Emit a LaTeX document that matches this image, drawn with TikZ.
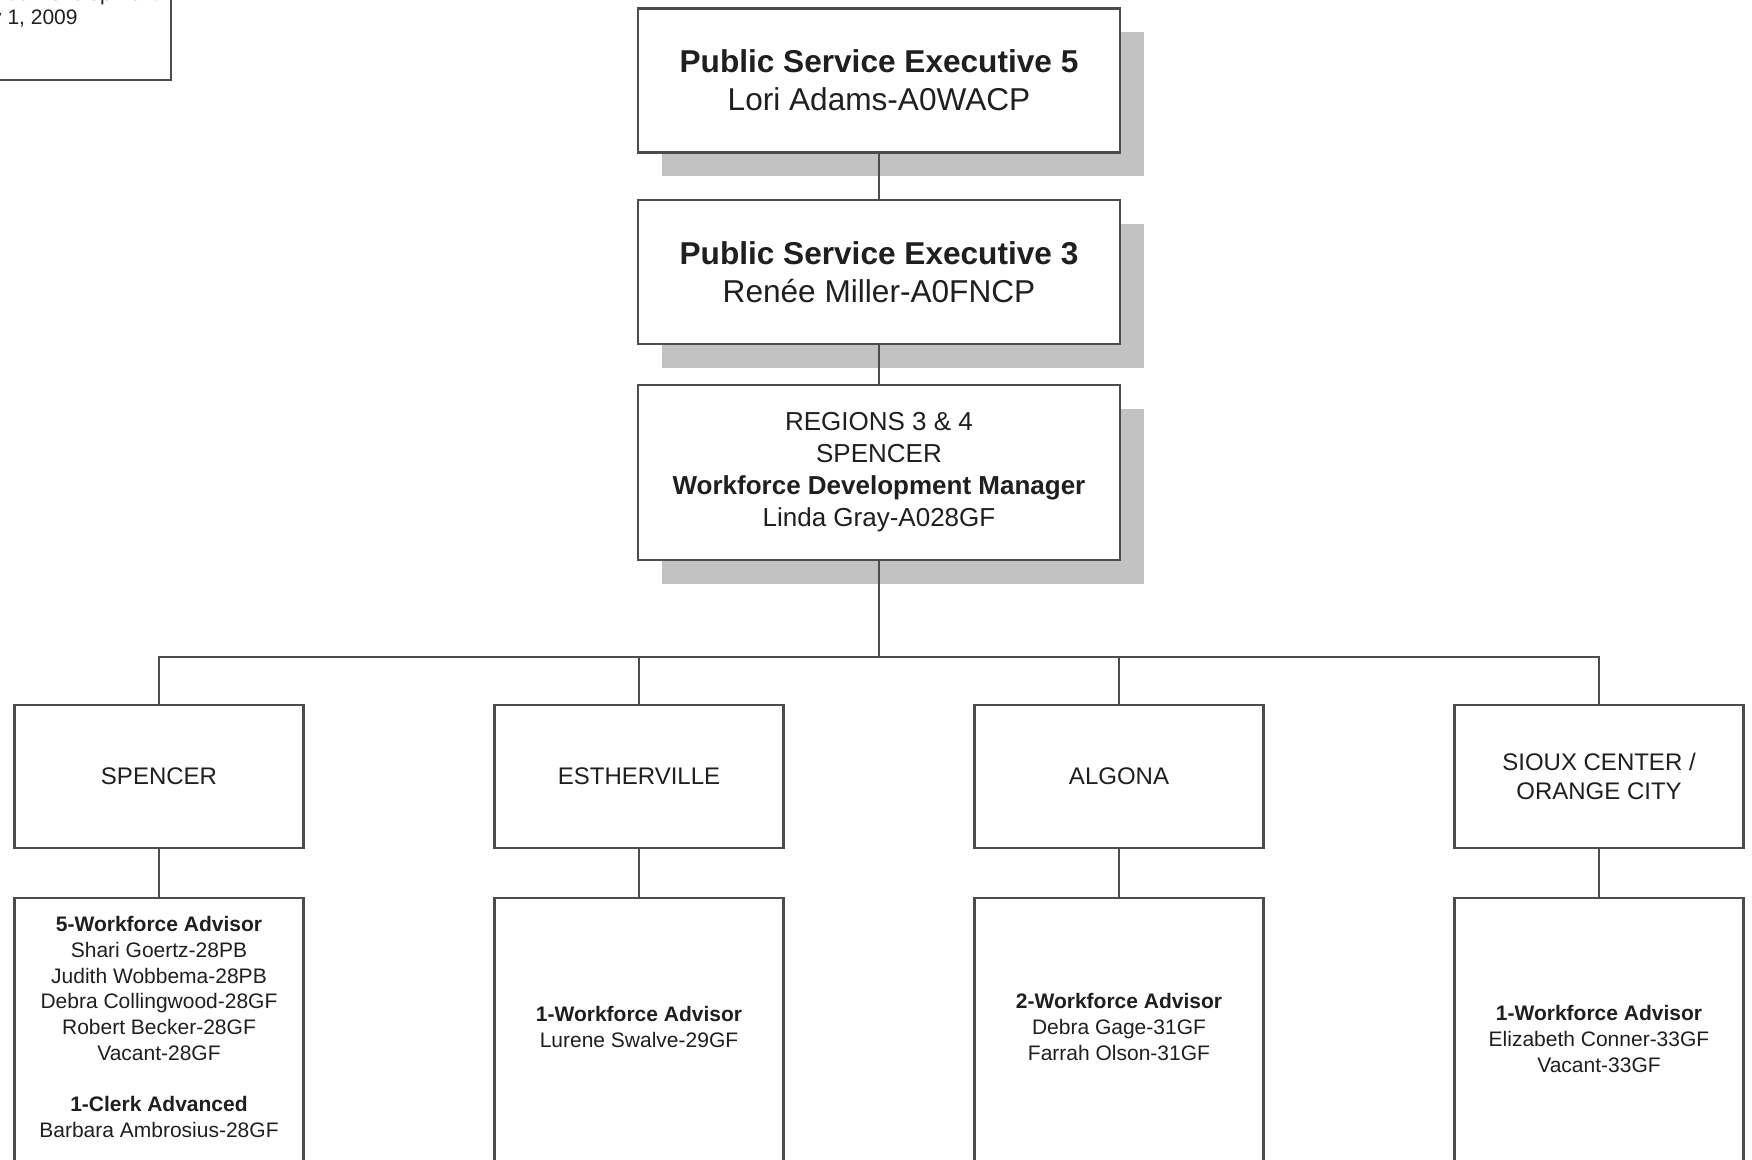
\documentclass[tikz,border=0pt]{standalone}
\usepackage{fontspec}
\setmainfont{Liberation Sans}
\usetikzlibrary{shadows}

\definecolor{boxline}{gray}{0.3}
\definecolor{shadowgray}{gray}{0.76}
\definecolor{textgray}{gray}{0.12}

\begin{document}
\begin{tikzpicture}[x=0.5pt, y=-0.5pt,
    every node/.style={text=textgray, align=center},
    execbox/.style={rectangle, draw=boxline, line width=1.1pt, fill=white,
        minimum width=241pt, minimum height=72pt,
        font=\fontsize{15.8}{19}\selectfont,
        drop shadow={shadow xshift=12pt, shadow yshift=-12pt, fill=shadowgray, opacity=1}},
    officebox/.style={rectangle, draw=boxline, line width=1.1pt, fill=white,
        minimum width=144.5pt, minimum height=71.5pt, font=\fontsize{12}{14.5}\selectfont},
    staffbox/.style={rectangle, draw=boxline, line width=1.1pt, fill=white,
        minimum width=144.5pt, minimum height=150pt, anchor=north},
    stafftext/.style={font=\fontsize{10.5}{12.85}\selectfont},
    link/.style={draw=boxline, line width=1pt}]
    \useasboundingbox (0,0) rectangle (1752,1160);
    \clip (0,0) rectangle (1752,1160);

    % date box, cut off at the corner
    \node[rectangle, draw=boxline, line width=1.1pt, minimum width=150pt, minimum height=73pt,
        font=\fontsize{10.5}{12}\selectfont] (datebox) at (21,7) {Iowa Workforce Development\\July 1, 2009};

    \node[execbox] (pse5) at (879,80.5) {\textbf{Public Service Executive 5}\\Lori Adams-A0WACP};
    \node[execbox] (pse3) at (879,272) {\textbf{Public Service Executive 3}\\Renée Miller-A0FNCP};
    \node[execbox, minimum height=87.5pt, font=\fontsize{13}{16}\selectfont] (mgr) at (879,472.5)
        {REGIONS 3 \& 4\\SPENCER\\\textbf{Workforce Development Manager}\\Linda Gray-A028GF};
    \coordinate (bus) at (879,657);

    % offices
    \node[officebox] (spencer) at (159,776.5) {SPENCER};
    \node[officebox] (esther) at (639,776.5) {ESTHERVILLE};
    \node[officebox] (algona) at (1119,776.5) {ALGONA};
    \node[officebox] (sioux) at (1599,776.5) {SIOUX CENTER /\\ORANGE CITY};

    % staff
    \node[staffbox] (spencerstaff) at (159,897) {};
    \node[staffbox] (estherstaff) at (639,897) {};
    \node[staffbox] (algonastaff) at (1119,897) {};
    \node[staffbox] (siouxstaff) at (1599,897) {};

    \node[stafftext] (spencerlist) at (159,1027) {\textbf{5-Workforce Advisor}\\Shari Goertz-28PB\\Judith Wobbema-28PB\\
        Debra Collingwood-28GF\\Robert Becker-28GF\\Vacant-28GF\\[12.85pt]\textbf{1-Clerk Advanced}\\Barbara Ambrosius-28GF};
    \node[stafftext] (estherlist) at (639,1027) {\textbf{1-Workforce Advisor}\\Lurene Swalve-29GF};
    \node[stafftext] (algonalist) at (1119,1027) {\textbf{2-Workforce Advisor}\\Debra Gage-31GF\\Farrah Olson-31GF};
    \node[stafftext] (siouxlist) at (1599,1039) {\textbf{1-Workforce Advisor}\\Elizabeth Conner-33GF\\Vacant-33GF};

    \draw[link] (pse5) -- (pse3);
    \draw[link] (pse3) -- (mgr);
    \draw[link] (mgr) -- (bus);
    \foreach \o in {spencer, esther, algona, sioux} {
        \draw[link] (bus) -| (\o);
        \draw[link] (\o) -- (\o staff);
    }
\end{tikzpicture}
\end{document}
